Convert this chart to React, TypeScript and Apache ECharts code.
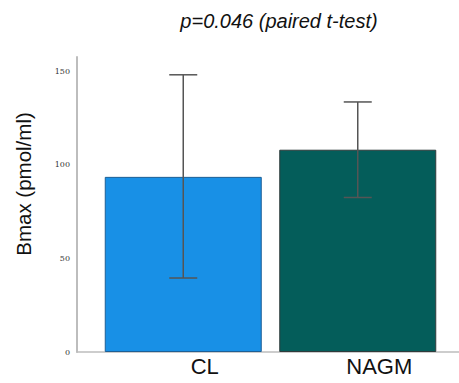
import React, { useEffect, useRef } from "react";
import * as echarts from "echarts";

const categories = ["CL", "NAGM"];
const means = [93.5, 108];
const upper = [148, 133.5];
const lower = [39.5, 82.5];
const barColors = ["#1890e6", "#045d5a"];
const borderColors = ["#1e5f95", "#2f3b3b"];
const yTicks = [0, 50, 100, 150];

export default function App() {
  const ref = useRef<HTMLDivElement>(null);
  useEffect(() => {
    const chart = echarts.init(ref.current!, null, { renderer: "svg" });
    const errData = categories.map((c, i) => [i, lower[i], upper[i]]);
    chart.setOption({
      animation: false,
      grid: [
        { left: 96, right: 14, top: 57, bottom: 31 },
        { left: 77, right: 0, top: 57, bottom: 31 },
      ],
      graphic: [
        {
          type: "text",
          x: 279,
          y: 21,
          style: {
            text: "p=0.046 (paired t-test)",
            fontSize: 20,
            fontStyle: "italic",
            fontFamily: "Liberation Sans, Arial, sans-serif",
            fill: "#111",
            textAlign: "center",
            textVerticalAlign: "middle",
          },
        },
        {
          type: "text",
          x: 23,
          y: 184,
          rotation: Math.PI / 2,
          style: {
            text: "Bmax (pmol/ml)",
            fontSize: 20.5,
            fontFamily: "Liberation Sans, Arial, sans-serif",
            fill: "#111",
            textAlign: "center",
            textVerticalAlign: "middle",
          },
        },
      ],
      xAxis: [
        {
          type: "category",
          gridIndex: 0,
          data: categories,
          axisLine: { show: false },
          axisTick: { show: false },
          axisLabel: {
            fontSize: 22,
            color: "#111",
            fontFamily: "Liberation Sans, Arial, sans-serif",
            margin: 3,
            padding: [0, 0, 0, 43],
          },
        },
        {
          type: "value",
          gridIndex: 1,
          min: 0,
          max: 1,
          axisLine: { show: true, lineStyle: { color: "#bdbdbd", width: 1.5 } },
          axisTick: { show: false },
          axisLabel: { show: false },
          splitLine: { show: false },
        },
      ],
      yAxis: [
        {
          type: "value",
          gridIndex: 0,
          min: 0,
          max: 157.5,
          interval: 50,
          offset: 19,
          axisLine: { show: true, lineStyle: { color: "#bdbdbd", width: 2 } },
          axisTick: { show: false },
          splitLine: { show: false },
          axisLabel: {
            fontSize: 8,
            color: "#333",
            margin: 7,
            fontFamily: "DejaVu Serif, serif",
            formatter: (v: number) => (yTicks.includes(v) ? String(v) : ""),
          },
        },
        {
          type: "value",
          gridIndex: 1,
          min: 0,
          max: 1,
          show: false,
        },
      ],
      series: [
        {
          type: "bar",
          xAxisIndex: 0,
          yAxisIndex: 0,
          barWidth: 157,
          data: means.map((v, i) => ({
            value: v,
            itemStyle: {
              color: barColors[i],
              borderColor: borderColors[i],
              borderWidth: 1,
            },
          })),
        },
        {
          type: "custom",
          xAxisIndex: 0,
          yAxisIndex: 0,
          data: errData,
          z: 10,
          renderItem: (params: any, api: any) => {
            const x = api.value(0);
            const lo = api.coord([x, api.value(1)]);
            const hi = api.coord([x, api.value(2)]);
            const hw = 14;
            const style = { stroke: "#555", lineWidth: 1.5 };
            return {
              type: "group",
              children: [
                { type: "line", shape: { x1: hi[0], y1: hi[1], x2: lo[0], y2: lo[1] }, style },
                { type: "line", shape: { x1: hi[0] - hw, y1: hi[1], x2: hi[0] + hw, y2: hi[1] }, style },
                { type: "line", shape: { x1: lo[0] - hw, y1: lo[1], x2: lo[0] + hw, y2: lo[1] }, style },
              ],
            };
          },
        },
      ],
    });
    return () => chart.dispose();
  }, []);
  return <div ref={ref} style={{ width: 459, height: 383, position: "absolute", left: 0, top: 0 }} />;
}
